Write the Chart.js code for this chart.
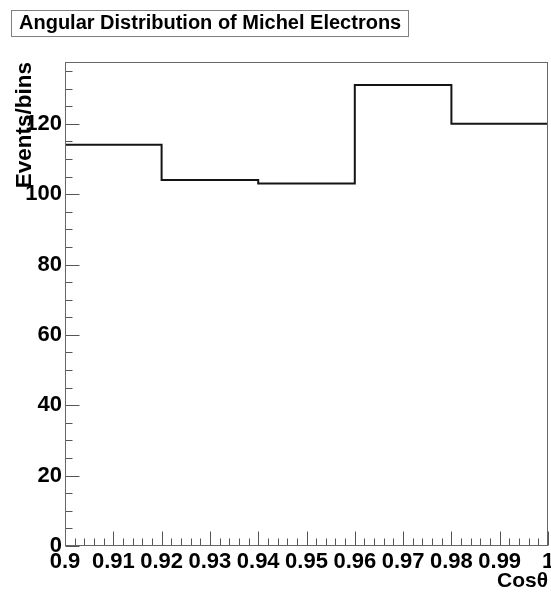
<!DOCTYPE html>
<html>
<head>
<meta charset="utf-8">
<title>Angular Distribution of Michel Electrons</title>
<script src="https://cdn.jsdelivr.net/npm/chart.js@4.4.1/dist/chart.umd.min.js"></script>
<style>
  body { margin: 0; background: #fff; }
  #wrap { position: relative; width: 551px; height: 594px; }
  #histTitle {
    position: absolute; left: 11px; top: 10px;
    height: 25px; line-height: 25px; padding: 0 7px;
    border: 1px solid #808080;
    font: bold 20px "Liberation Sans", Arial, sans-serif;
    color: #000; white-space: nowrap;
  }
</style>
</head>
<body>
<div id="wrap">
  <canvas id="histChart" width="551" height="594"></canvas>
  <div id="histTitle">Angular Distribution of Michel Electrons</div>
</div>
<script>
// bin edges in cos(theta) and the entries per bin
const binEdges = [0.90, 0.92, 0.94, 0.96, 0.98, 1.00];
const counts = [114, 104, 103, 131, 120];

const xMin = binEdges[0];
const xMax = binEdges[binEdges.length - 1];
const yMax = Math.max(...counts) * 1.05; // headroom above the tallest bin

// step outline: one point per lower edge, plus the last upper edge
const outline = binEdges.map((edge, i) => ({
  x: edge,
  y: counts[Math.min(i, counts.length - 1)],
}));

const FONT = "'Liberation Sans', Arial, sans-serif";

// frame + inward tick marks (major / minor) drawn from the scales
const frameTicks = {
  id: "frameTicks",
  afterDraw(chart) {
    const { ctx, chartArea: a, scales } = chart;
    const x = scales.x;
    const y = scales.y;
    const L = Math.round(a.left) + 0.5;
    const R = Math.round(a.right) - 0.5;
    const T = Math.round(a.top) + 0.5;
    const B = Math.round(a.bottom) - 0.5;

    ctx.save();
    ctx.lineWidth = 1;
    ctx.strokeStyle = "#555";
    ctx.beginPath();

    // x axis: major every 0.01, minor every 0.002
    const nx = Math.round((xMax - xMin) / 0.002);
    for (let i = 0; i <= nx; i++) {
      const px = Math.round(x.getPixelForValue(xMin + i * 0.002)) + 0.5;
      const len = i % 5 === 0 ? 14 : 7;
      ctx.moveTo(px, B);
      ctx.lineTo(px, B - len);
    }

    // y axis: major every 20, minor every 5
    for (let v = 0; v <= yMax; v += 5) {
      const py = Math.round(y.getPixelForValue(v)) + 0.5;
      const len = v % 20 === 0 ? 14 : 7;
      ctx.moveTo(L, py);
      ctx.lineTo(L + len, py);
    }
    ctx.stroke();

    ctx.strokeStyle = "#666";
    ctx.strokeRect(L, T, R - L, B - T);
    ctx.restore();
  },
};

const ctx = document.getElementById("histChart").getContext("2d");

const histChart = new Chart(ctx, {
  type: "line",
  data: {
    datasets: [
      {
        data: outline,
        stepped: "before",
        borderColor: "#151515",
        borderWidth: 2,
        pointRadius: 0,
        fill: false,
      },
    ],
  },
  options: {
    responsive: false,
    animation: false,
    layout: { padding: { top: 62, right: 3, left: 0, bottom: 0 } },
    plugins: {
      legend: { display: false },
      tooltip: { enabled: false },
    },
    scales: {
      x: {
        type: "linear",
        min: xMin,
        max: xMax,
        grid: { display: false, drawTicks: false },
        border: { display: false },
        afterFit: (s) => {
          s.height = 48;
          s.paddingLeft = 0;
          s.paddingRight = 0;
        },
        ticks: {
          stepSize: 0.01,
          autoSkip: false,
          maxRotation: 0,
          minRotation: 0,
          padding: 3,
          color: "#000",
          font: { family: FONT, size: 22, weight: "bold" },
          callback: (v) => String(Number(v.toFixed(2))),
        },
        title: {
          display: true,
          text: "Cosθ",
          align: "end",
          color: "#000",
          padding: { top: 0, bottom: 0 },
          font: { family: FONT, size: 21, weight: "bold" },
        },
      },
      y: {
        type: "linear",
        min: 0,
        max: yMax,
        grid: { display: false, drawTicks: false },
        border: { display: false },
        afterFit: (s) => {
          s.width = 65;
          s.paddingTop = 0;
          s.paddingBottom = 0;
        },
        ticks: {
          stepSize: 20,
          includeBounds: false,
          padding: 3,
          color: "#000",
          font: { family: FONT, size: 22, weight: "bold" },
        },
        title: {
          display: true,
          text: "Events/bins",
          align: "end",
          color: "#000",
          padding: { top: 11.5, bottom: 0 },
          font: { family: FONT, size: 22.5, weight: "bold" },
        },
      },
    },
  },
  plugins: [frameTicks],
});
</script>
</body>
</html>
